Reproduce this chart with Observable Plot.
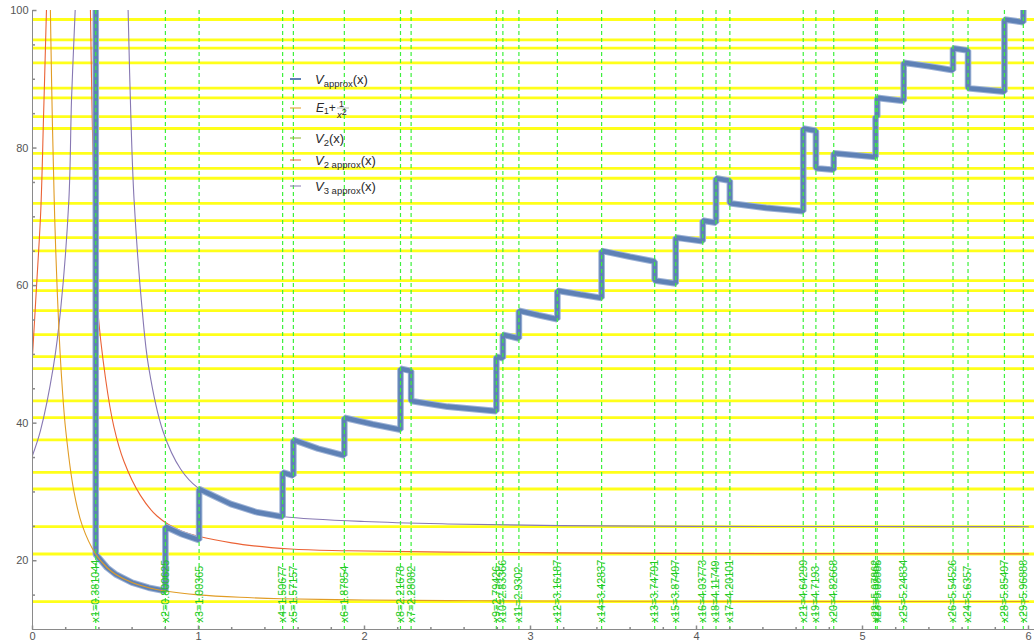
<!DOCTYPE html>
<html><head><meta charset="utf-8">
<script src="https://cdn.jsdelivr.net/npm/d3@7"></script>
<script src="https://cdn.jsdelivr.net/npm/@observablehq/plot@0.6"></script>
<style>
body{margin:0;background:#fff;}
#chart{position:relative;width:1034px;height:643px;}
</style>
</head><body><div id="chart"></div>
<script>
// ---------- data ----------
const energyLevels = [98.69, 95.74, 94.52, 92.39, 88.70, 87.30, 84.58, 82.84, 79.24, 77.06, 75.61, 71.97, 69.45, 66.98, 65.05, 60.73, 59.27, 56.36, 52.87, 49.67, 47.93, 43.23, 40.80, 37.56, 32.84, 30.43, 24.95, 20.98, 14.04];

const pointValues = [0.381044, 0.800625, 1.00365, 1.50677, 1.57157, 1.87854, 2.21678, 2.28082, 2.79426, 2.83366, 2.9302, 3.16187, 3.42837, 3.74791, 3.87497, 4.03773, 4.11749, 4.20101, 4.64299, 4.7193, 4.82668, 5.07862, 5.08885, 5.24834, 5.54526, 5.6357, 5.85497, 5.96888];
const pointLabels = ["x1=0.381044","x2=0.800625","x3=1.00365","x4=1.50677","x5=1.57157","x6=1.87854","x8=2.21678","x7=2.28082","x9=2.79426","x10=2.83366","x11=2.9302","x12=3.16187","x14=3.42837","x13=3.74791","x15=3.87497","x16=4.03773","x18=4.11749","x17=4.20101","x21=4.64299","x19=4.7193","x20=4.82668","x22=5.07862","x23=5.08885","x25=5.24834","x26=5.54526","x24=5.6357","x28=5.85497","x29=5.96888"];

// V_approx(x) – step curve
const vApproxX = [0.381044,0.381044,0.45,0.5,0.6,0.7,0.800625,0.800625,0.9,1.00365,1.00365,1.194,1.354,1.50677,1.50677,1.57157,1.57157,1.72,1.87854,1.87854,2.05,2.21678,2.21678,2.28082,2.28082,2.5,2.79426,2.79426,2.83366,2.83366,2.9302,2.9302,3.05,3.16187,3.16187,3.3,3.42837,3.42837,3.6,3.74791,3.74791,3.87497,3.87497,4.03773,4.03773,4.11749,4.11749,4.20101,4.20101,4.42,4.64299,4.64299,4.7193,4.7193,4.82668,4.82668,5.07862,5.07862,5.08885,5.08885,5.24834,5.24834,5.4,5.54526,5.54526,5.6357,5.6357,5.85497,5.85497,5.96888,5.96888];
const vApproxY = [110,20.93,18.98,18.04,16.82,16.08,15.6,24.95,23.85,23.0,30.43,28.25,27.03,26.4,32.84,32.36,37.56,36.3,35.3,40.8,39.85,39.05,47.93,47.6,43.23,42.4,41.75,49.67,49.45,52.87,52.3,56.36,55.7,55.1,59.27,58.7,58.2,65.05,64.2,63.5,60.73,60.3,66.98,66.45,69.45,69.15,75.61,75.25,71.97,71.3,70.8,82.84,82.5,77.06,76.85,79.24,78.7,84.58,84.55,87.3,86.85,92.39,91.9,91.3,94.52,94.2,88.7,88.2,98.69,98.3,110];

// E1 + 1/x^2
const e1X = [0.105,0.11,0.12,0.13,0.14,0.16,0.18,0.2,0.25,0.3,0.38,0.45,0.5,0.6,0.7,0.8,1,1.25,1.5,2,2.5,3,4,5,6];
const e1Y = [104.7,96.7,83.5,73.2,65.1,53.1,44.9,39.0,30.0,25.1,20.97,18.98,18.04,16.82,16.08,15.6,15.04,14.68,14.48,14.29,14.2,14.15,14.1,14.08,14.07];

// V2 approx(x) – two branches
const v2aLeftX = [0,0.024,0.05,0.067,0.084,0.09];
const v2aLeftY = [49.8,59.75,71,85,100,106];
const v2aRightX = [0.345,0.349,0.36,0.373,0.39,0.44,0.49,0.55,0.65,0.75,0.893,1.2,1.555,1.9,2.5,3.5,4.5,6];
const v2aRightY = [106,100,84,69.7,57.5,46.5,39.5,34.5,29.5,26.5,24.36,22.6,21.7,21.45,21.25,21.1,21.03,21.0];

// V3 approx(x) – two branches
const v3aLeftX = [0,0.048,0.125,0.169,0.219,0.235,0.257,0.262];
const v3aLeftY = [35.3,38.9,48.1,56.4,72.4,87,100,104];
const v3aRightX = [0.572,0.576,0.592,0.612,0.661,0.70,0.785,0.893,0.993,1.194,1.354,1.515,2,2.5,3.18,4,5,6];
const v3aRightY = [104,100,85,72.4,56.4,48.1,38.9,33.3,30.67,28.25,27.03,26.4,25.7,25.35,25.1,25.0,24.97,24.95];

const xMajorTicks = [0,1,2,3,4,5,6];
const xMinorTicks = [0.2,0.4,0.6,0.8,1.2,1.4,1.6,1.8,2.2,2.4,2.6,2.8,3.2,3.4,3.6,3.8,4.2,4.4,4.6,4.8,5.2,5.4,5.6,5.8];
const yMajorTicks = [20,40,60,80,100];
const yMinorTicks = [15,25,30,35,45,50,55,65,70,75,85,90,95];
const axisOrigin = {x: 0, y: 10};

const legendItems = [
  {key: "vapprox", color: "#5E81B5", width: 2},
  {key: "e1", color: "#E19C24", width: 1},
  {key: "v2", color: "#8FB032", width: 1},
  {key: "v2a", color: "#EB6235", width: 1},
  {key: "v3a", color: "#8778B3", width: 1}
];

// ---------- tables ----------
const toPts = (xs, ys) => xs.map((x, i) => ({x, y: ys[i]}));
const blue = toPts(vApproxX, vApproxY);
const orange = toPts(e1X, e1Y);
const redL = toPts(v2aLeftX, v2aLeftY), redR = toPts(v2aRightX, v2aRightY);
const purL = toPts(v3aLeftX, v3aLeftY), purR = toPts(v3aRightX, v3aRightY);
const points = pointValues.map((v, i) => ({x: v, label: pointLabels[i]}));

const axisColor = "#8a8a8a", labelColor = "#555";
const tickUp = len => ({draw(ctx){ ctx.moveTo(0,0); ctx.lineTo(0,-len); }});
const tickRight = len => ({draw(ctx){ ctx.moveTo(0,0); ctx.lineTo(len,0); }});

const chart = Plot.plot({
  width: 1034, height: 643,
  marginLeft: 32, marginRight: 0, marginTop: 10, marginBottom: 14,
  style: {fontFamily: "'Liberation Sans', Arial, sans-serif", fontSize: "11px", background: "#fff", overflow: "visible"},
  x: {domain: [0, 6], range: [32, 1028]},
  y: {domain: [10, 100]},
  marks: [
    Plot.ruleY(energyLevels, {stroke: "#ffff1a", strokeWidth: 2.8}),
    Plot.line(purL, {x: "x", y: "y", stroke: "#8778B3", strokeWidth: 1.1, curve: "catmull-rom", clip: true}),
    Plot.line(purR, {x: "x", y: "y", stroke: "#8778B3", strokeWidth: 1.1, curve: "catmull-rom", clip: true}),
    Plot.line(redL, {x: "x", y: "y", stroke: "#EB6235", strokeWidth: 1.1, curve: "catmull-rom", clip: true}),
    Plot.line(redR, {x: "x", y: "y", stroke: "#EB6235", strokeWidth: 1.1, curve: "catmull-rom", clip: true}),
    Plot.line(blue, {x: "x", y: "y", stroke: "#9db2d6", strokeWidth: 6.6, strokeLinejoin: "miter", clip: true}),
    Plot.line(blue, {x: "x", y: "y", stroke: "#5E81B5", strokeWidth: 4.6, strokeLinejoin: "miter", clip: true}),
    Plot.line(orange, {x: "x", y: "y", stroke: "#E19C24", strokeWidth: 1.1, curve: "catmull-rom", clip: true}),
    Plot.ruleX(points, {x: "x", stroke: "#3df03d", strokeWidth: 1.2, strokeDasharray: "4,3"}),
    Plot.text(points, {x: "x", text: "label", frameAnchor: "bottom", rotate: -90, textAnchor: "start", lineAnchor: "middle", dy: -7, fill: "#22c822", fontSize: 10.8}),
    Plot.ruleY([axisOrigin], {y: "y", stroke: axisColor, strokeWidth: 1}),
    Plot.ruleX([axisOrigin], {x: "x", stroke: axisColor, strokeWidth: 1}),
    Plot.dot(xMajorTicks, {x: d => d, frameAnchor: "bottom", symbol: tickUp(4), stroke: axisColor, fill: "none"}),
    Plot.dot(xMinorTicks, {x: d => d, frameAnchor: "bottom", symbol: tickUp(2.5), stroke: axisColor, fill: "none"}),
    Plot.dot(yMajorTicks, {y: d => d, frameAnchor: "left", symbol: tickRight(4), stroke: axisColor, fill: "none"}),
    Plot.dot(yMinorTicks, {y: d => d, frameAnchor: "left", symbol: tickRight(2.5), stroke: axisColor, fill: "none"}),
    Plot.axisX({ticks: xMajorTicks, tickFormat: d3.format("d"), tickSize: 0, tickPadding: 3, color: labelColor, fontSize: 11, label: null}),
    Plot.axisY({ticks: yMajorTicks, tickFormat: d3.format("d"), tickSize: 0, tickPadding: 4, color: labelColor, fontSize: 11, label: null})
  ]
});

document.getElementById("chart").appendChild(chart);

// ---------- legend (inside plot area) ----------
const svg = d3.select(chart);
const lg = svg.append("g")
  .attr("font-family", "'Liberation Sans', Arial, sans-serif")
  .attr("text-anchor", "start")
  .attr("fill", "#2a2a2a");
const rowY = [79, 108, 138, 160, 186];
legendItems.forEach((it, i) => {
  lg.append("line").attr("x1", 290).attr("x2", 301).attr("y1", rowY[i]).attr("y2", rowY[i])
    .attr("stroke", it.color).attr("stroke-width", it.width);
});
function vLabel(y, sub) {
  const t = lg.append("text").attr("x", 315).attr("y", y + 5).attr("font-size", 13);
  t.append("tspan").attr("font-style", "italic").text("V");
  t.append("tspan").attr("font-size", 9.5).attr("dy", 2.5).text(sub);
  t.append("tspan").attr("dy", -2.5).text("(x)");
}
vLabel(rowY[0], "approx");
{
  const y = rowY[1];
  const t = lg.append("text").attr("x", 316).attr("y", y + 4).attr("font-size", 12);
  t.append("tspan").attr("font-style", "italic").text("E");
  t.append("tspan").attr("font-size", 8.5).attr("dy", 2).text("1");
  t.append("tspan").attr("dy", -2).text("+");
  lg.append("text").attr("x", 339).attr("y", y - 1.5).attr("font-size", 9).text("1");
  lg.append("line").attr("x1", 337).attr("x2", 349).attr("y1", y).attr("y2", y).attr("stroke", "#888").attr("stroke-width", 0.6);
  const b = lg.append("text").attr("x", 337).attr("y", y + 10).attr("font-size", 9.5);
  b.append("tspan").attr("font-style", "italic").text("x");
  b.append("tspan").attr("font-size", 9).attr("dy", -3).text("2");
}
{
  const y = rowY[2];
  const t = lg.append("text").attr("x", 315).attr("y", y + 5).attr("font-size", 13);
  t.append("tspan").attr("font-style", "italic").text("V");
  t.append("tspan").attr("font-size", 9.5).attr("dy", 2.5).text("2");
  t.append("tspan").attr("dy", -2.5).text("(x)");
}
vLabel(rowY[3], "2 approx");
vLabel(rowY[4], "3 approx");
</script>
</body></html>
